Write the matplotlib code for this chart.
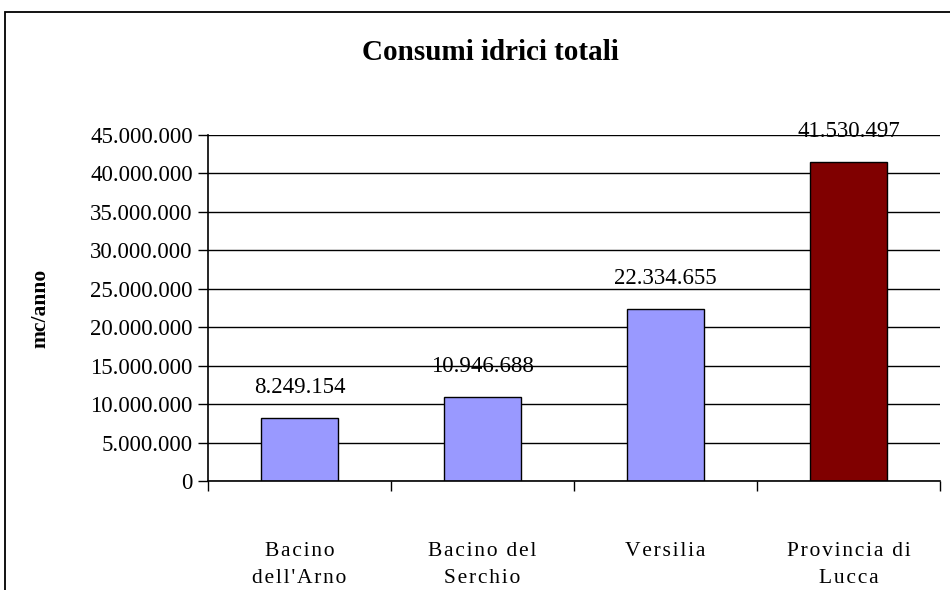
import matplotlib
matplotlib.use("Agg")
import matplotlib.pyplot as plt
from matplotlib.patches import Rectangle
from matplotlib.ticker import FuncFormatter, FixedLocator

categories = ["Bacino\ndell'Arno", "Bacino del\nSerchio", "Versilia", "Provincia di\nLucca"]
values = [8249154, 10946688, 22334655, 41530497]
bar_colors = ["#9999FF", "#9999FF", "#9999FF", "#800000"]
y_ticks = [0, 5000000, 10000000, 15000000, 20000000, 25000000, 30000000, 35000000, 40000000, 45000000]

plt.rcParams['font.family'] = ['Liberation Serif', 'DejaVu Serif']

def fmt(v):
    return f"{int(round(v)):,}".replace(",", ".")

def spaced(s):
    # emulate the letter spacing of the original category labels
    return "\n".join("\u200a".join(line) for line in s.split("\n"))

fig = plt.figure(figsize=(9.5, 5.9), dpi=100)
fig.patch.set_facecolor("white")

# outer chart border
fig.patches.append(Rectangle((5/950, -0.05), 1.2, 1 - 12/590 + 0.05,
                             transform=fig.transFigure, fill=False,
                             edgecolor="black", linewidth=1.3))

ax = fig.add_axes([208/950, 1 - 481/590, (940 - 208)/950, (481 - 135)/590])
x = list(range(len(categories)))
ax.bar(x, values, width=0.42, color=bar_colors, edgecolor="black", linewidth=1.0, zorder=3)

ax.set_xlim(-0.5, len(categories) - 0.5)
ax.set_ylim(0, 45000000)
ax.yaxis.set_major_locator(FixedLocator(y_ticks))
ax.yaxis.set_major_formatter(FuncFormatter(lambda v, p: fmt(v)))
ax.grid(axis="y", color="black", linewidth=1.0, zorder=0)

ax.set_xticks([i - 0.5 for i in range(len(categories) + 1)])
ax.set_xticklabels([])
ax.set_xticks(x, minor=True)
ax.set_xticklabels([spaced(c) for c in categories], minor=True, fontsize=15.5, linespacing=1.55)
ax.tick_params(axis="x", which="major", direction="out", length=7, width=1.0, color="black")
ax.tick_params(axis="x", which="minor", length=0, pad=44)
ax.tick_params(axis="y", direction="out", length=7, width=1.0, labelsize=16.5, pad=4)

for s in ["top", "right"]:
    ax.spines[s].set_visible(False)
for s in ["left", "bottom"]:
    ax.spines[s].set_color("black")
    ax.spines[s].set_linewidth(1.2)
    ax.spines[s].set_zorder(4)

for xi, v in zip(x, values):
    ax.annotate(fmt(v), (xi, v), xytext=(0, 22), textcoords="offset points",
                ha="center", va="center", fontsize=16.5, zorder=5)

fig.text(490/950, 1 - 53/590, "Consumi idrici totali", ha="center", va="center",
         fontsize=21, fontweight="bold")
fig.text(40/950, 1 - 308/590, "mc/anno", ha="center", va="center", rotation=90,
         fontsize=15.5, fontweight="bold")

fig.savefig("out.png", dpi=100, facecolor="white")
